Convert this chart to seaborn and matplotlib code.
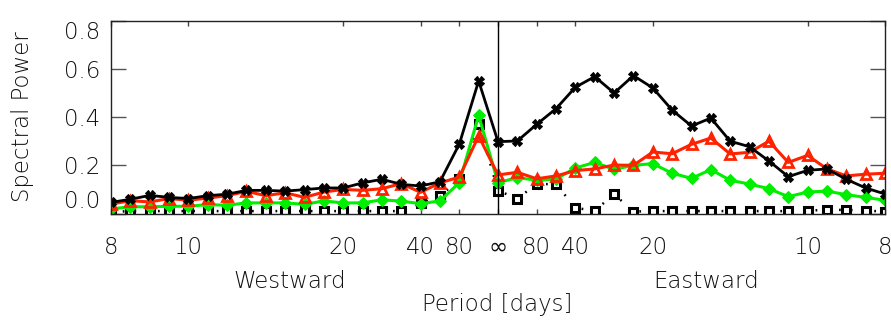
import numpy as np
import pandas as pd
import matplotlib
matplotlib.use("Agg")
import matplotlib.pyplot as plt
import seaborn as sns

# frequency index (negative = westward, positive = eastward), 1/160 cpd steps
k = list(range(-20, 21))

black_solid = [0.046, 0.059, 0.075, 0.067, 0.062, 0.074, 0.080, 0.096, 0.096, 0.093,
               0.099, 0.106, 0.106, 0.127, 0.142, 0.121, 0.114, 0.132, 0.288, 0.550,
               0.298,
               0.301, 0.370, 0.435, 0.524, 0.568, 0.500, 0.572, 0.521, 0.429, 0.363,
               0.396, 0.300, 0.277, 0.218, 0.153, 0.179, 0.185, 0.142, 0.106, 0.081]
red_tri = [0.039, 0.053, 0.048, 0.062, 0.055, 0.064, 0.074, 0.092, 0.074, 0.086,
           0.067, 0.089, 0.100, 0.096, 0.103, 0.124, 0.088, 0.127, 0.151, 0.322,
           0.160,
           0.171, 0.144, 0.156, 0.178, 0.185, 0.201, 0.200, 0.255, 0.248, 0.287,
           0.313, 0.247, 0.254, 0.300, 0.212, 0.241, 0.185, 0.156, 0.163, 0.167]
green_dia = [0.019, 0.028, 0.028, 0.030, 0.030, 0.037, 0.034, 0.044, 0.044, 0.044,
             0.038, 0.052, 0.044, 0.044, 0.057, 0.051, 0.041, 0.052, 0.128, 0.407,
             0.128,
             0.149, 0.138, 0.143, 0.189, 0.212, 0.183, 0.200, 0.207, 0.167, 0.146,
             0.182, 0.138, 0.122, 0.103, 0.070, 0.089, 0.093, 0.078, 0.067, 0.055]
dotted_sq = [0.006, 0.010, 0.010, 0.010, 0.010, 0.010, 0.010, 0.010, 0.010, 0.010,
             0.010, 0.010, 0.010, 0.010, 0.010, 0.010, 0.042, 0.071, 0.143, 0.373,
             0.095,
             0.062, 0.122, 0.122, 0.023, 0.012, 0.080, 0.008, 0.010, 0.010, 0.010,
             0.010, 0.010, 0.010, 0.010, 0.010, 0.012, 0.015, 0.015, 0.012, 0.008]

tick_pos = [-20, -16, -8, -4, -2, 0, 2, 4, 8, 16, 20]
tick_labels = ["8", "10", "20", "40", "80", "\u221e", "80", "40", "20", "10", "8"]
ytick_vals = [0.0, 0.2, 0.4, 0.6, 0.8]

sns.set_style("white")
plt.rcParams["font.family"] = ["DejaVu Sans"]
plt.rcParams["font.weight"] = "light"

FS = 16.5
W, H = 891, 321
fig = plt.figure(figsize=(W / 100, H / 100), dpi=100)
ax = fig.add_axes([111 / W, 1 - 213.5 / H, (885 - 111) / W, (213.5 - 20.7) / H])

df = pd.DataFrame({"k": k, "black": black_solid, "red": red_tri,
                   "green": green_dia, "dot": dotted_sq})

sns.lineplot(data=df, x="k", y="dot", ax=ax, color="black", lw=1.8,
             linestyle=(0, (0.7, 4.0)), marker="s", markersize=5.5,
             markerfacecolor="white", markeredgecolor="black", markeredgewidth=2.2)
sns.lineplot(data=df, x="k", y="green", ax=ax, color="#00ee00", lw=2.2,
             marker="D", markersize=6, markerfacecolor="#00ee00",
             markeredgecolor="#00ee00")
sns.lineplot(data=df, x="k", y="red", ax=ax, color="#ff2200", lw=2.2,
             marker="^", markersize=7, markerfacecolor="none",
             markeredgecolor="#ff2200", markeredgewidth=2.0)
sns.lineplot(data=df, x="k", y="black", ax=ax, color="black", lw=2.0,
             marker="X", markersize=7, markerfacecolor="black",
             markeredgecolor="black")

ax.axvline(0, color="black", lw=1.0)

ax.set_xlim(-20, 20)
ax.set_ylim(0, 0.8)
ax.set_xlabel("")
ax.set_ylabel("")
for s in ax.spines.values():
    s.set_color("#222222")
    s.set_linewidth(1.0)
    s.set_visible(True)

ax.set_xticks(tick_pos)
ax.set_xticklabels(tick_labels)
ax.set_yticks(ytick_vals)
ax.set_yticklabels([f"{v:.1f}" for v in ytick_vals])
ax.tick_params(axis="x", direction="in", length=3.5, width=1, color="#444444",
               top=True, bottom=True, labelsize=FS, pad=16, labelcolor="#111111")
ax.tick_params(axis="y", direction="in", length=11, width=1, color="#555555",
               left=True, right=True, labelsize=FS, pad=8, labelcolor="#111111")
for lab in ax.get_xticklabels():
    if lab.get_text() == "\u221e":
        lab.set_fontweight("normal")
        lab.set_family(["DejaVu Sans"])
ylabs = ax.get_yticklabels()
ylabs[0].set_va("bottom")
ylabs[-1].set_va("top")

fig.text(290 / W, 1 - 281.5 / H, "Westward", ha="center", va="center",
         fontsize=FS, color="#111111")
fig.text(706 / W, 1 - 281.5 / H, "Eastward", ha="center", va="center",
         fontsize=FS, color="#111111")
fig.text(497 / W, 1 - 305 / H, "Period [days]", ha="center", va="center",
         fontsize=FS, color="#111111")
fig.text(23 / W, 1 - 117 / H, "Spectral Power", ha="center", va="center",
         rotation=90, fontsize=FS, color="#111111")

fig.savefig("out.png", dpi=100)
